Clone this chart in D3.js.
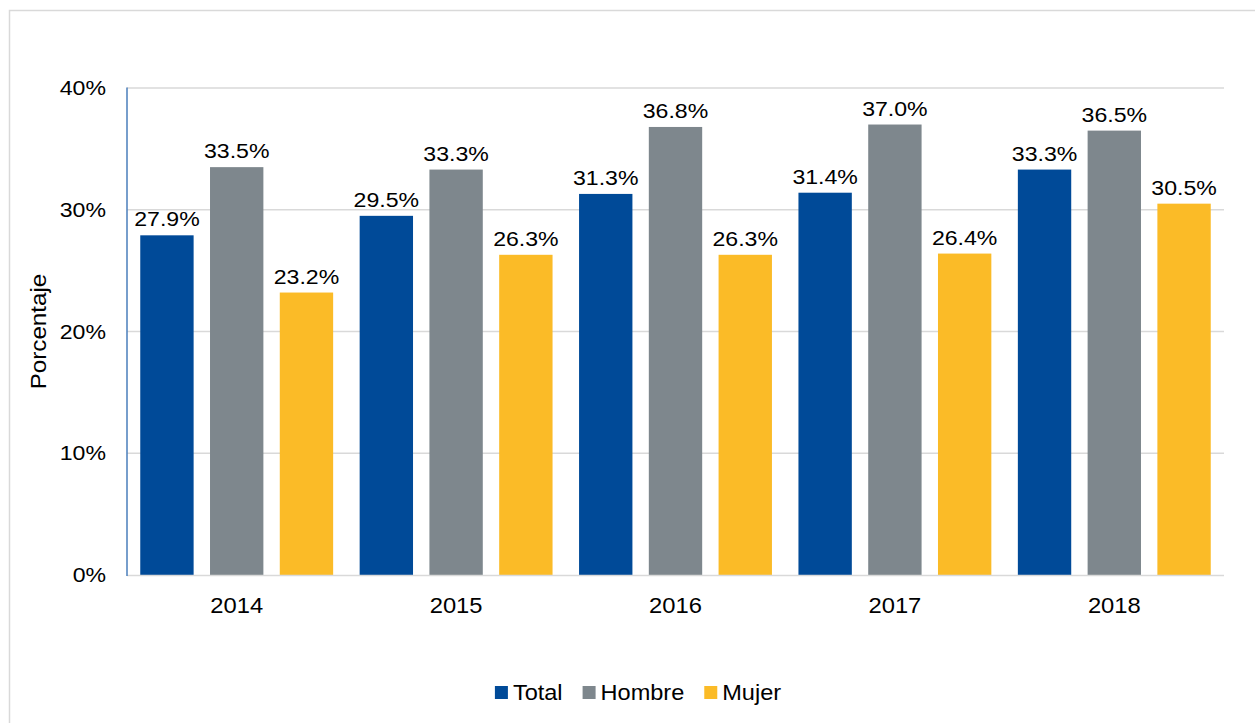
<!DOCTYPE html>
<html>
<head>
<meta charset="utf-8">
<script src="https://cdn.jsdelivr.net/npm/d3@7"></script>
<style>
  body { margin: 0; background: #fff; }
  text { font-family: "Liberation Sans", Arial, sans-serif; fill: #000; }
</style>
</head>
<body>
<div id="vis"></div>
<script>
const FRAME_WIDTH = 1255;
const FRAME_HEIGHT = 723;
const MARGINS = {left: 127, right: 31, top: 88, bottom: 147};
const STRETCH = 1.1;

// data
const YEARS = ["2014", "2015", "2016", "2017", "2018"];
const SERIES = ["Total", "Hombre", "Mujer"];
const TOTAL = [27.9, 29.5, 31.3, 31.4, 33.3];
const HOMBRE = [33.5, 33.3, 36.8, 37.0, 36.5];
const MUJER = [23.2, 26.3, 26.3, 26.4, 30.5];
const Y_TICKS = [0, 10, 20, 30, 40];

const COLOR = d3.scaleOrdinal()
        .domain(SERIES)
        .range(["#004a98", "#7e878d", "#fbbb27"]);

const VALUES = {Total: TOTAL, Hombre: HOMBRE, Mujer: MUJER};
const rows = [];
YEARS.forEach((y, i) => {
    SERIES.forEach((s) => { rows.push({year: y, series: s, value: VALUES[s][i]}); });
});

const FRAME = d3.select("#vis")
        .append("svg")
            .attr("width", FRAME_WIDTH)
            .attr("height", FRAME_HEIGHT);

// outer border
FRAME.append("rect")
    .attr("x", 9.5).attr("y", 10.5)
    .attr("width", FRAME_WIDTH + 20).attr("height", FRAME_HEIGHT + 20)
    .attr("fill", "none")
    .attr("stroke", "#d9d9d9")
    .attr("stroke-width", 1.5);

const X0 = d3.scaleBand()
        .domain(YEARS)
        .range([MARGINS.left, FRAME_WIDTH - MARGINS.right]);

const X1 = d3.scaleBand()
        .domain(SERIES)
        .range([0, X0.bandwidth()])
        .paddingInner(0.235)
        .paddingOuter(0.19);

const Y_SCALE = d3.scaleLinear()
        .domain([0, 40])
        .range([FRAME_HEIGHT - MARGINS.bottom - 1, MARGINS.top]);

// gridlines
FRAME.append("g")
    .selectAll("line")
    .data(Y_TICKS.filter(d => d > 0))
    .enter()
    .append("line")
        .attr("x1", MARGINS.left)
        .attr("x2", FRAME_WIDTH - MARGINS.right)
        .attr("y1", d => Y_SCALE(d))
        .attr("y2", d => Y_SCALE(d))
        .attr("stroke", "#d9d9d9")
        .attr("stroke-width", 1.5);

// y axis labels
const yAxis = FRAME.append("g")
    .attr("transform", "translate(" + MARGINS.left + ",0)")
    .call(d3.axisLeft(Y_SCALE).tickValues(Y_TICKS).tickFormat(d => d + "%").tickSize(0).tickPadding(21));
yAxis.select(".domain").remove();
yAxis.selectAll("text")
    .attr("font-size", "21px")
    .attr("font-family", "Liberation Sans, Arial, sans-serif")
    .attr("fill", "#000")
    .attr("x", -21 / STRETCH)
    .attr("transform", "scale(" + STRETCH + ",1)");

// bars
FRAME.append("g")
    .selectAll("rect")
    .data(rows)
    .enter()
    .append("rect")
        .attr("x", d => X0(d.year) + X1(d.series))
        .attr("y", d => Y_SCALE(d.value))
        .attr("width", X1.bandwidth())
        .attr("height", d => Y_SCALE(0) - Y_SCALE(d.value))
        .attr("fill", d => COLOR(d.series));

// baseline
FRAME.append("line")
    .attr("x1", MARGINS.left)
    .attr("x2", FRAME_WIDTH - MARGINS.right)
    .attr("y1", Y_SCALE(0) + 0.5)
    .attr("y2", Y_SCALE(0) + 0.5)
    .attr("stroke", "#d9d9d9")
    .attr("stroke-width", 1.5);

// y axis line
FRAME.append("line")
    .attr("x1", MARGINS.left)
    .attr("x2", MARGINS.left)
    .attr("y1", Y_SCALE(40) - 0.5)
    .attr("y2", Y_SCALE(0) + 1)
    .attr("stroke", "#4a7ebb")
    .attr("stroke-width", 1.5);

// value labels
FRAME.append("g")
    .selectAll("text")
    .data(rows)
    .enter()
    .append("text")
        .attr("transform", d => "translate(" + (X0(d.year) + X1(d.series) + X1.bandwidth() / 2) + "," + (Y_SCALE(d.value) - 9) + ") scale(" + STRETCH + ",1)")
        .attr("text-anchor", "middle")
        .attr("font-size", "21px")
        .text(d => d.value.toFixed(1) + "%");

// x axis labels
FRAME.append("g")
    .selectAll("text")
    .data(YEARS)
    .enter()
    .append("text")
        .attr("transform", d => "translate(" + (X0(d) + X0.bandwidth() / 2) + "," + 613 + ") scale(1.08,1)")
        .attr("text-anchor", "middle")
        .attr("font-size", "22px")
        .text(d => d);

// y axis title
FRAME.append("text")
    .attr("transform", "translate(46," + ((Y_SCALE(0) + Y_SCALE(40)) / 2) + ") rotate(-90) scale(" + STRETCH + ",1)")
    .attr("text-anchor", "middle")
    .attr("font-size", "22px")
    .text("Porcentaje");

// legend
const legend = FRAME.append("g");
let lx = 0;
SERIES.forEach((s) => {
    legend.append("rect")
        .attr("x", lx).attr("y", 686)
        .attr("width", 13).attr("height", 13)
        .attr("fill", COLOR(s));
    const t = legend.append("text")
        .attr("font-size", "22px")
        .attr("transform", "translate(" + (lx + 18) + ",700) scale(1.07,1)")
        .text(s);
    lx += 18 + t.node().getComputedTextLength() * 1.07 + 20;
});
const lw = lx - 20;
legend.attr("transform", "translate(" + (638 - lw / 2) + ",0)");
</script>
</body>
</html>
